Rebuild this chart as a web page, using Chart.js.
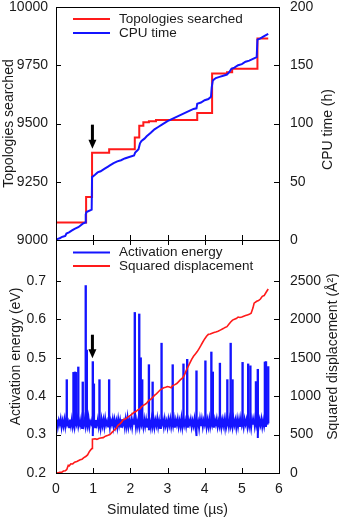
<!DOCTYPE html>
<html><head><meta charset="utf-8">
<script src="https://cdn.jsdelivr.net/npm/chart.js@4"></script>
<style>html,body{margin:0;padding:0;background:#fff;overflow:hidden}
canvas{position:absolute;left:0;top:0}</style></head>
<body>
<canvas id="topc" width="339" height="517" style="width:339px;height:517px"></canvas>
<canvas id="botc" width="339" height="517" style="width:339px;height:517px"></canvas>
<script>
// ---------------- DATA ----------------
// top panel
const topoSteps = [[0,9075],[0.81,9185],[0.97,9375],[1.43,9390],[2.12,9440],[2.24,9490],[2.35,9505],[2.5,9510],[2.69,9515],[3.8,9545],[4.2,9715],[4.6,9720],[4.74,9735],[5.42,9865],[5.71,9865]];
const cpuTime = [[0,0],[0.05,1],[0.1,1.5],[0.15,2.5],[0.2,3],[0.25,3.5],[0.28,5.5],[0.35,6.5],[0.42,8],[0.5,9.5],[0.6,11],[0.66,12.5],[0.72,14],[0.79,15],[0.8,22],[0.82,24],[0.96,26],[0.97,54],[1.05,56],[1.12,58],[1.2,59],[1.3,61],[1.4,63],[1.45,64],[1.55,66],[1.65,67.5],[1.75,68.5],[1.85,70],[1.95,71],[2.1,72.5],[2.13,75],[2.16,76],[2.22,78],[2.26,83],[2.3,85],[2.38,87],[2.44,89],[2.55,92],[2.65,95],[2.75,97],[2.85,99],[3.0,102],[3.1,103.5],[3.2,105],[3.3,106.5],[3.4,108],[3.5,109.5],[3.6,111],[3.7,112.5],[3.78,113],[3.8,117],[3.9,118],[4.0,120],[4.1,121],[4.17,123],[4.19,131],[4.22,137],[4.3,139],[4.4,140],[4.5,141],[4.6,142],[4.66,144],[4.72,147],[4.8,148],[4.9,150],[5.0,151],[5.1,153],[5.2,154],[5.3,155.5],[5.4,157],[5.42,172],[5.5,173],[5.6,175],[5.71,177]];
const topLeftTicks = [9000,9250,9500,9750,10000];
const topRightTicks = [0,50,100,150,200];
// bottom panel
const timeTicks = [0,1,2,3,4,5,6];
const botLeftTicks = [0.2,0.3,0.4,0.5,0.6,0.7];
const botRightTicks = [0,500,1000,1500,2000,2500];
const aeStep = 0.025; // µs between baseline samples
const aeNoise = [
.324,.339,.320,.337,.327,.341,.319,.336,.322,.340,.321,.342,.326,.334,.319,.339,.323,.340,.320,.336,
.319,.340,.327,.341,.321,.335,.324,.340,.317,.338,.325,.341,.320,.337,.322,.343,.319,.334,.328,.340,
.321,.341,.319,.338,.326,.340,.320,.336,.316,.340,.323,.339,.320,.342,.325,.335,.321,.340,.318,.337,
.327,.341,.320,.339,.322,.336,.319,.341,.324,.338,.320,.340,.326,.335,.318,.340,.321,.344,.320,.336,
.323,.340,.319,.338,.328,.341,.318,.337,.321,.340,.320,.341,.325,.336,.319,.340,.322,.339,.320,.342,
.326,.334,.318,.340,.321,.341,.319,.337,.324,.342,.320,.336,.317,.340,.327,.338,.320,.341,.323,.335,
.319,.340,.325,.341,.320,.337,.322,.340,.318,.338,.326,.341,.320,.336,.321,.343,.319,.339,.324,.337,
.321,.341,.318,.338,.327,.340,.320,.336,.323,.341,.319,.339,.325,.335,.316,.340,.322,.340,.320,.337,
.326,.342,.319,.338,.321,.341,.320,.336,.324,.340,.318,.339,.327,.341,.320,.335,.322,.343,.319,.338,
.323,.340,.318,.341,.326,.337,.320,.340,.322,.336,.319,.341,.325,.338,.318,.340,.321,.339,.320,.342,
.324,.336,.319,.340,.327,.339,.320,.341,.321,.337,.317,.340,.326,.341,.320,.336,.323,.340,.319,.338,
.325,.341,.320,.337,.322,.341,.320,.339,.326];
const aeBase = 0.33;
const aeSpikes = [[0.29,.443],[0.47,.462],[0.51,.463],[0.54,.462],[0.60,.476],[0.72,.437],[0.80,.688],[0.83,.52],[0.99,.49],[1.02,.432],[1.17,.443],[1.43,.443],[2.12,.618],[2.24,.614],[2.28,.50],[2.32,.443],[2.50,.482],[2.60,.437],[2.84,.538],[3.14,.482],[3.43,.484],[3.53,.496],[3.78,.466],[4.02,.492],[4.18,.515],[4.22,.463],[4.41,.486],[4.61,.443],[4.70,.538],[4.75,.443],[5.02,.488],[5.17,.484],[5.23,.479],[5.38,.438],[5.43,.47],[5.62,.489],[5.65,.49],[5.71,.477]];
const aeDips = [[0.99,.297],[2.5,.312],[3.78,.297],[5.43,.292]];
const sqDisp = [[0,5],[0.05,0],[0.1,10],[0.15,8],[0.2,25],[0.25,30],[0.29,45],[0.33,100],[0.36,95],[0.4,120],[0.45,118],[0.5,140],[0.56,150],[0.6,160],[0.65,172],[0.7,180],[0.75,200],[0.8,215],[0.85,235],[0.9,280],[0.94,305],[0.97,320],[0.98,440],[1.05,445],[1.1,438],[1.15,450],[1.2,455],[1.27,460],[1.33,480],[1.4,490],[1.45,500],[1.5,525],[1.55,550],[1.6,570],[1.63,590],[1.67,620],[1.72,640],[1.77,665],[1.8,690],[1.85,700],[1.9,715],[1.95,735],[2.0,750],[2.05,770],[2.1,790],[2.15,800],[2.2,820],[2.26,835],[2.3,860],[2.35,880],[2.4,895],[2.44,910],[2.5,945],[2.55,960],[2.6,985],[2.65,1010],[2.7,1030],[2.75,1055],[2.8,1080],[2.85,1095],[2.9,1110],[2.95,1115],[3.0,1125],[3.05,1120],[3.1,1110],[3.13,1135],[3.2,1150],[3.25,1165],[3.3,1190],[3.35,1215],[3.4,1235],[3.45,1270],[3.5,1330],[3.55,1380],[3.6,1430],[3.65,1480],[3.7,1520],[3.75,1550],[3.8,1580],[3.85,1620],[3.9,1660],[3.95,1705],[4.0,1745],[4.05,1780],[4.1,1805],[4.15,1810],[4.2,1820],[4.25,1830],[4.3,1835],[4.36,1845],[4.42,1860],[4.5,1880],[4.55,1895],[4.6,1905],[4.65,1935],[4.7,1965],[4.75,1990],[4.8,2000],[4.85,2010],[4.9,2030],[4.95,2025],[5.0,2030],[5.05,2040],[5.1,2050],[5.15,2058],[5.2,2065],[5.25,2080],[5.3,2150],[5.33,2210],[5.4,2235],[5.45,2245],[5.5,2265],[5.55,2300],[5.6,2310],[5.65,2350],[5.71,2395]];

// ---------------- STYLE ----------------
const RED = '#ff1a1a', BLUE = '#1414ff', TXT = '#1a1a1a';
const FONT = 'Liberation Sans, Arial, Helvetica, sans-serif';
const tickFont = {family: FONT, size: 14};
const titleFont = {family: FONT, size: 14, lineHeight: 1};

const framePlugin = {
  id: 'frame',
  afterDraw(chart, args, o) {
    const {ctx, chartArea: a, scales} = chart;
    ctx.save();
    ctx.strokeStyle = '#000'; ctx.lineWidth = 1;
    ctx.strokeRect(a.left + 0.5, a.top + 0.5, a.right - a.left, a.bottom - a.top);
    const L = 5;
    ctx.beginPath();
    scales.yL.ticks.forEach(t => { const y = Math.round(scales.yL.getPixelForValue(t.value)) + 0.5; ctx.moveTo(a.left, y); ctx.lineTo(a.left + L, y); });
    scales.yR.ticks.forEach(t => { const y = Math.round(scales.yR.getPixelForValue(t.value)) + 0.5; ctx.moveTo(a.right, y); ctx.lineTo(a.right - L, y); });
    o.xticks.forEach(v => {
      const x = Math.round(scales.x.getPixelForValue(v)) + 0.5;
      if (o.bottom) { ctx.moveTo(x, a.bottom); ctx.lineTo(x, a.bottom - L); }
      if (o.top) { ctx.moveTo(x, a.top); ctx.lineTo(x, a.top + L); }
    });
    ctx.stroke();
    // right axis title (reads bottom-to-top)
    ctx.font = '14px ' + FONT;
    ctx.fillStyle = TXT; ctx.textAlign = 'center'; ctx.textBaseline = 'middle';
    ctx.save();
    ctx.translate(o.rightTitle.x, (a.top + a.bottom) / 2 + o.rightTitle.dy);
    ctx.rotate(-Math.PI / 2);
    ctx.fillText(o.rightTitle.text, 0, 0);
    ctx.restore();
    // legend
    ctx.font = '13.5px ' + FONT;
    ctx.textBaseline = 'middle'; ctx.textAlign = 'left';
    o.legend.forEach(it => {
      ctx.strokeStyle = it.color; ctx.lineWidth = 2;
      ctx.beginPath(); ctx.moveTo(73, it.y); ctx.lineTo(110, it.y); ctx.stroke();
      ctx.fillStyle = TXT; ctx.fillText(it.text, 119, it.y);
    });
    // arrow
    const ar = o.arrow;
    const ax = scales.x.getPixelForValue(ar.x);
    const y0 = scales[ar.axis].getPixelForValue(ar.from);
    const y1 = scales[ar.axis].getPixelForValue(ar.to);
    ctx.strokeStyle = '#000'; ctx.fillStyle = '#000'; ctx.lineWidth = 3;
    ctx.beginPath(); ctx.moveTo(ax, y0); ctx.lineTo(ax, y1 - 8); ctx.stroke();
    ctx.beginPath(); ctx.moveTo(ax - 4, y1 - 9); ctx.lineTo(ax + 4, y1 - 9); ctx.lineTo(ax, y1); ctx.closePath(); ctx.fill();
    ctx.restore();
  }
};

function yAxis(pos, min, max, tickVals, fmt, title, width, pad, tpad) {
  return {
    type: 'linear', position: pos, min, max,
    afterBuildTicks(s) { s.ticks = tickVals.map(v => ({value: v})); },
    afterFit(s) { s.width = width; s.paddingTop = 0; s.paddingBottom = 0; },
    ticks: {font: tickFont, color: TXT, padding: pad, callback: v => fmt(v)},
    grid: {display: false, drawTicks: false}, border: {display: false},
    title: {display: !!title, text: title || '', font: titleFont, color: TXT, padding: {top: tpad, bottom: 0}}
  };
}

new Chart(document.getElementById('topc'), {
  type: 'line',
  data: {datasets: [
    {label: 'CPU time', data: cpuTime.map(p => ({x: p[0], y: p[1]})), yAxisID: 'yR', borderColor: BLUE, borderWidth: 2, pointRadius: 0, order: 0},
    {label: 'Topologies searched', data: topoSteps.map(p => ({x: p[0], y: p[1]})), yAxisID: 'yL', borderColor: RED, borderWidth: 2, pointRadius: 0, stepped: 'before', order: 1}
  ]},
  options: {
    responsive: false, animation: false, devicePixelRatio: 1,
    layout: {padding: {top: 7, bottom: 277, left: 0, right: 0}},
    plugins: {legend: {display: false}, tooltip: {enabled: false},
      frame: {xticks: [1,2,3,4,5], bottom: true, top: false,
        rightTitle: {text: 'CPU time (h)', x: 328, dy: 6},
        legend: [{text: 'Topologies searched', color: RED, y: 19}, {text: 'CPU time', color: BLUE, y: 33}],
        arrow: {x: 0.98, axis: 'yL', from: 9495, to: 9392}}},
    scales: {
      x: {type: 'linear', min: 0, max: 6, offset: false, ticks: {display: false}, grid: {display: false, drawTicks: false, offset: false}, border: {display: false}, afterFit(s) { s.height = 0; s.paddingLeft = 0; s.paddingRight = 0; }},
      yL: yAxis('left', 9000, 10000, topLeftTicks, v => String(v), 'Topologies searched', 56, 8, 2),
      yR: yAxis('right', 0, 200, topRightTicks, v => String(v), null, 60, 11, 0)
    }
  },
  plugins: [framePlugin]
});

new Chart(document.getElementById('botc'), {
  type: 'line',
  data: {datasets: [
    {label: 'Squared displacement', data: sqDisp.map(p => ({x: p[0], y: p[1]})), yAxisID: 'yR', borderColor: RED, borderWidth: 1.6, pointRadius: 0, order: 0},
    {label: 'Activation energy', data: aeNoise.map((v, i) => ({x: i * aeStep, y: v})), yAxisID: 'yL', borderColor: BLUE, borderWidth: 1.9, pointRadius: 0, order: 1},
    {type: 'bar', label: 'spikes', data: aeSpikes.map(p => ({x: p[0], y: [aeBase, p[1]]})), yAxisID: 'yL', backgroundColor: BLUE, barThickness: 1.7, grouped: false, order: 2},
    {type: 'bar', label: 'dips', data: aeDips.map(p => ({x: p[0], y: [p[1], aeBase]})), yAxisID: 'yL', backgroundColor: BLUE, barThickness: 1.4, grouped: false, order: 3}
  ]},
  options: {
    responsive: false, animation: false, devicePixelRatio: 1,
    layout: {padding: {top: 240, bottom: 0, left: 0, right: 0}},
    plugins: {legend: {display: false}, tooltip: {enabled: false},
      frame: {xticks: [1,2,3,4,5], bottom: true, top: true,
        rightTitle: {text: 'Squared displacement (Å²)', x: 333, dy: 0},
        legend: [{text: 'Activation energy', color: BLUE, y: 252.5}, {text: 'Squared displacement', color: RED, y: 266}],
        arrow: {x: 0.98, axis: 'yL', from: 0.56, to: 0.499}}},
    scales: {
      x: {type: 'linear', min: 0, max: 6, offset: false,
        afterBuildTicks(s) { s.ticks = timeTicks.map(v => ({value: v})); },
        afterFit(s) { s.height = 44; s.paddingLeft = 0; s.paddingRight = 0; },
        ticks: {font: tickFont, color: TXT, padding: 8, maxRotation: 0, callback: v => String(v)},
        grid: {display: false, drawTicks: false, offset: false}, border: {display: false},
        title: {display: true, text: 'Simulated time (µs)', font: titleFont, color: TXT, padding: {top: 0, bottom: 0}}},
      yL: yAxis('left', 0.2, 0.8066, botLeftTicks, v => v.toFixed(1), 'Activation energy (eV)', 56, 10, 9),
      yR: yAxis('right', 0, 3033, botRightTicks, v => String(v), null, 60, 11, 0)
    }
  },
  plugins: [framePlugin]
});
</script></body></html>
